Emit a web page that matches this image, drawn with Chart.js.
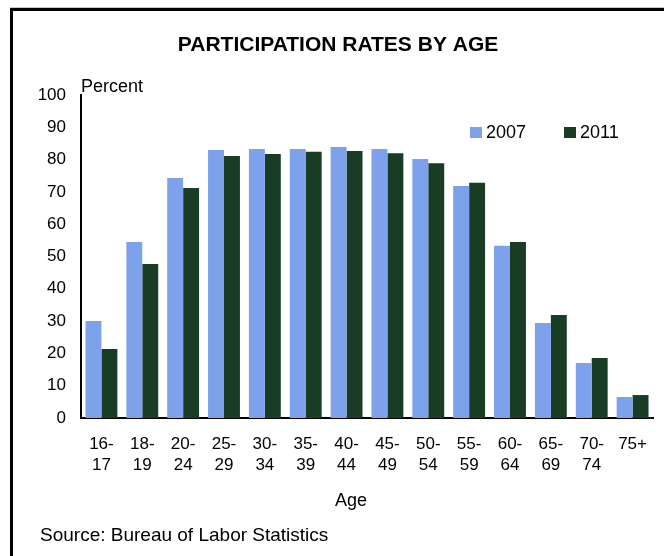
<!DOCTYPE html>
<html>
<head>
<meta charset="utf-8">
<script src="https://cdn.jsdelivr.net/npm/chart.js@4/dist/chart.umd.min.js"></script>
<style>
  html, body { margin: 0; padding: 0; background: #ffffff; }
  #wrap { width: 664px; height: 556px; position: relative; }
</style>
</head>
<body>
<div id="wrap"><canvas id="c" width="664" height="556"></canvas></div>
<script>
// ---- Data ----
const categories = [["16-","17"],["18-","19"],["20-","24"],["25-","29"],["30-","34"],["35-","39"],["40-","44"],["45-","49"],["50-","54"],["55-","59"],["60-","64"],["65-","69"],["70-","74"],["75+"]];
const seriesNames = ["2007", "2011"];
const rates2007 = [30.0, 54.5, 74.3, 83.0, 83.3, 83.3, 83.9, 83.3, 80.2, 71.8, 53.3, 29.4, 17.0, 6.5];
const rates2011 = [21.4, 47.7, 71.2, 81.1, 81.7, 82.4, 82.7, 82.0, 78.9, 72.8, 54.5, 31.9, 18.6, 7.1];
const yTickValues = [0, 10, 20, 30, 40, 50, 60, 70, 80, 90, 100];
const titleText = "PARTICIPATION RATES BY AGE";
const yAxisTitle = "Percent";
const xAxisTitle = "Age";
const sourceText = "Source: Bureau of Labor Statistics";

const COLORS = ["#7DA1EB", "#183D24"];
const FONT = "'Liberation Sans', Arial, sans-serif";

const decorPlugin = {
  id: 'decor',
  afterDraw(chart) {
    const ctx = chart.ctx;
    const area = chart.chartArea;
    ctx.save();
    // frame
    ctx.fillStyle = '#c8c8c8';
    ctx.fillRect(10, 7, 654, 1);
    ctx.fillStyle = '#000000';
    ctx.fillRect(10, 8, 654, 3);
    ctx.fillRect(10, 8, 3, 548);
    // title
    ctx.fillStyle = '#000';
    ctx.font = "bold 21px " + FONT;
    ctx.textAlign = 'center';
    ctx.textBaseline = 'middle';
    ctx.fillText(titleText, 338, 45);
    // y axis title
    ctx.font = "18px " + FONT;
    ctx.textAlign = 'left';
    ctx.textBaseline = 'alphabetic';
    ctx.fillText(yAxisTitle, area.left, 92);
    // x axis title
    ctx.textAlign = 'center';
    ctx.fillText(xAxisTitle, 351, 506);
    // source
    ctx.textAlign = 'left';
    ctx.font = "19px " + FONT;
    ctx.fillText(sourceText, 40, 541);
    // legend
    const legendX = [470, 564];
    chart.data.datasets.forEach((ds, i) => {
      ctx.fillStyle = ds.backgroundColor;
      ctx.fillRect(legendX[i], 127, 12, 11);
      ctx.fillStyle = '#000';
      ctx.font = "18px " + FONT;
      ctx.textAlign = 'left';
      ctx.fillText(ds.label, legendX[i] + 16, 138);
    });
    ctx.restore();
  }
};

new Chart(document.getElementById('c'), {
  type: 'bar',
  data: {
    labels: categories,
    datasets: [
      { label: seriesNames[0], data: rates2007, backgroundColor: COLORS[0], borderWidth: 0 },
      { label: seriesNames[1], data: rates2011, backgroundColor: COLORS[1], borderWidth: 0 }
    ]
  },
  options: {
    responsive: false,
    animation: false,
    devicePixelRatio: 1,
    layout: { padding: { top: 95, right: 11, left: 0, bottom: 0 } },
    plugins: {
      legend: { display: false },
      title: { display: false },
      tooltip: { enabled: false }
    },
    datasets: { bar: { barPercentage: 1.0, categoryPercentage: 0.78 } },
    scales: {
      x: {
        grid: { display: false, drawTicks: false },
        border: { display: true, color: '#000', width: 2 },
        ticks: {
          color: '#000',
          font: { family: FONT, size: 17, lineHeight: 1.24 },
          padding: 16,
          maxRotation: 0,
          autoSkip: false
        },
        afterFit(s) { s.height = 138; }
      },
      y: {
        min: 0, max: 100,
        afterBuildTicks(s) { s.ticks = yTickValues.map(v => ({ value: v })); },
        grid: { display: false, drawTicks: false },
        border: { display: true, color: '#000', width: 2 },
        ticks: {
          color: '#000',
          font: { family: FONT, size: 17 },
          padding: 15
        },
        afterFit(s) { s.width = 81; }
      }
    }
  },
  plugins: [decorPlugin]
});
</script>
</body>
</html>
